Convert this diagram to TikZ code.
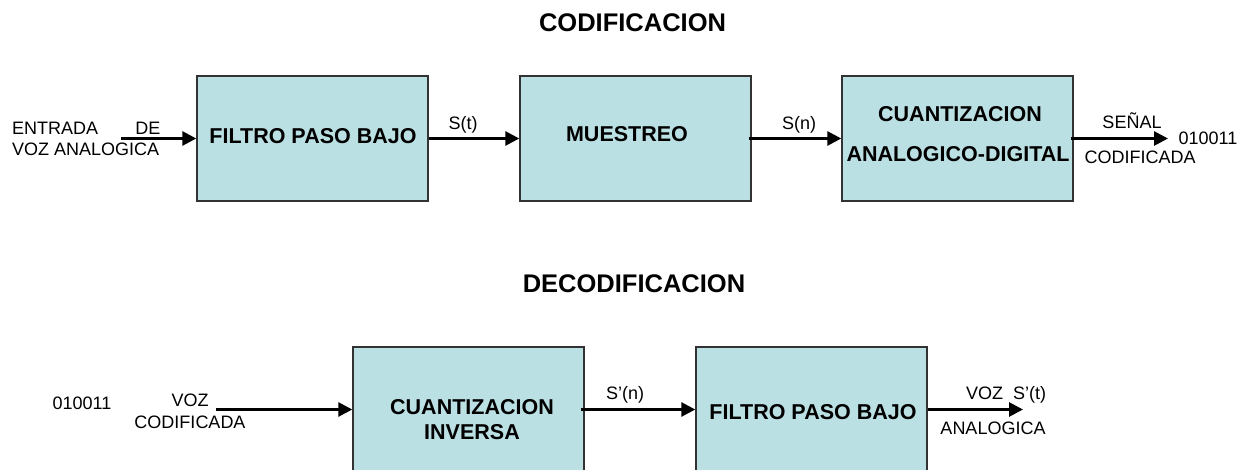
\documentclass[tikz,border=0pt]{standalone}
\usepackage{fontspec}
\setmainfont{Liberation Sans}
\usetikzlibrary{arrows.meta}
\definecolor{boxfill}{RGB}{187,224,227}
\definecolor{boxline}{RGB}{50,50,50}
\tikzset{
  blk/.style={draw=boxline, line width=1.4pt, fill=boxfill, minimum width=231pt, minimum height=125pt, inner sep=0pt},
  btxt/.style={font=\fontsize{21.5}{24}\selectfont\bfseries, inner sep=0pt, text height=15.4pt, text depth=0pt},
  ttl/.style={font=\fontsize{25.5}{28}\selectfont\bfseries, inner sep=0pt, text height=18.3pt, text depth=0pt},
  lab/.style={font=\fontsize{18}{20}\selectfont, inner sep=0pt, text height=12.9pt, text depth=0pt},
  arr/.style={line width=2.8pt, -{Triangle[length=14pt,width=14pt]}}
}
\begin{document}
\begin{tikzpicture}[x=1pt,y=-1pt]
\useasboundingbox (0,0) rectangle (1253,470);
\clip (0,0) rectangle (1253,470);
% titles
\node[ttl] (t1) at (632.5,22) {CODIFICACION};
\node[ttl] (t2) at (634,283) {DECODIFICACION};
% top row boxes
\node[blk] (b1) at (312.5,138.5) {};
\node[blk] (b2) at (635.5,138.5) {};
\node[blk] (b3) at (957.5,138.5) {};
\node[btxt] (b1t) at (313,136) {FILTRO PASO BAJO};
\node[btxt] (b2t) at (627,134) {MUESTREO};
\node[btxt] (b3t1) at (960,114) {CUANTIZACION};
\node[btxt] (b3t2) at (958,154) {ANALOGICO-DIGITAL};
% top labels
\node[lab, anchor=west] (l1) at (12,128) {ENTRADA};
\node[lab] (l2) at (148,128) {DE};
\node[lab, anchor=west] (l3) at (12,149) {VOZ ANALOGICA};
\node[lab] (l4) at (463,123) {S(t)};
\node[lab] (l5) at (799,123) {S(n)};
\node[lab] (l6) at (1132,122) {SEÑAL};
\node[lab] (l7) at (1208,138) {010011};
\node[lab] (l8) at (1140,157) {CODIFICADA};
% top connectors
\coordinate (in1) at (121,138.5);
\coordinate (out1) at (1168,138.5);
\draw[arr] (in1) -- (b1.west);
\draw[arr] (b1.east) -- (b2.west);
\draw[arr] ([xshift=-3pt]b2.east) -- (b3.west);
\draw[arr] ([xshift=-3pt]b3.east) -- (out1);
% bottom row boxes
\node[blk] (b4) at (468.5,409.5) {};
\node[blk] (b5) at (811.5,409.5) {};
\node[btxt] (b4t1) at (472,407) {CUANTIZACION};
\node[btxt] (b4t2) at (472,432) {INVERSA};
\node[btxt] (b5t) at (813,412) {FILTRO PASO BAJO};
% bottom labels
\node[lab] (m1) at (82,403) {010011};
\node[lab] (m2) at (190,400) {VOZ};
\node[lab] (m3) at (190,422) {CODIFICADA};
\node[lab] (m4) at (625,393) {S’(n)};
\node[lab] (m5) at (1006,393) {VOZ \ S’(t)};
\node[lab] (m6) at (993,428) {ANALOGICA};
% bottom connectors
\coordinate (in2) at (216,409.5);
\coordinate (out2) at (1023,409.5);
\draw[arr] (in2) -- (b4.west);
\draw[arr] ([xshift=-4pt]b4.east) -- (b5.west);
\draw[arr] (b5.east) -- (out2);
\end{tikzpicture}
\end{document}
